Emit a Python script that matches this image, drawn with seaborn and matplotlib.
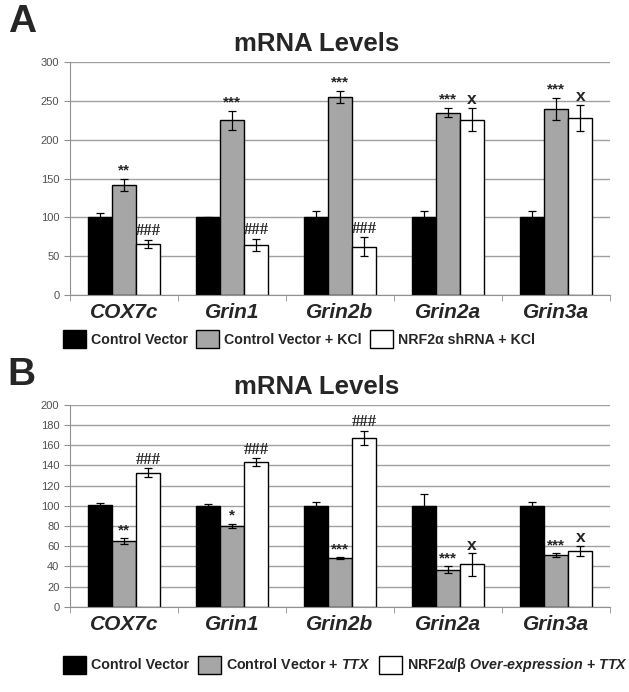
import numpy as np
import pandas as pd
import seaborn as sns
import matplotlib.pyplot as plt

sns.set_style("white")
plt.rcParams['font.family'] = ['Liberation Sans', 'DejaVu Sans']
plt.rcParams['mathtext.fontset'] = 'custom'
plt.rcParams['mathtext.rm'] = 'Liberation Sans:bold'
plt.rcParams['mathtext.it'] = 'Liberation Sans:bold:italic'
plt.rcParams['mathtext.bf'] = 'Liberation Sans:bold'

genes = ["COX7c", "Grin1", "Grin2b", "Grin2a", "Grin3a"]

### Panel A ###
a_groups = ["Control Vector", "Control Vector + KCl", "NRF2\u03b1 shRNA + KCl"]
a_ctrl = [100, 100, 100, 100, 100]
a_ctrl_err = [5, 1, 8, 8, 8]
a_kcl = [142, 225, 255, 235, 240]
a_kcl_err = [8, 12, 8, 6, 14]
a_sh = [66, 64, 62, 226, 228]
a_sh_err = [5, 8, 12, 15, 17]
a_ctrl_sig = ["", "", "", "", ""]
a_kcl_sig = ["**", "***", "***", "***", "***"]
a_sh_sig = ["###", "###", "###", "x", "x"]

### Panel B ###
b_groups = ["Control Vector", "Control Vector + $\\it{TTX}$",
            "NRF2\u03b1/\u03b2 $\\it{Over}$-$\\it{expression}$ + $\\it{TTX}$"]
b_ctrl = [101, 100, 100, 100, 100]
b_ctrl_err = [2, 2, 4, 12, 4]
b_ttx = [65, 80, 48, 37, 51]
b_ttx_err = [3, 2, 1, 3, 2]
b_ov = [133, 143, 167, 42, 55]
b_ov_err = [4, 4, 7, 11, 5]
b_ctrl_sig = ["", "", "", "", ""]
b_ttx_sig = ["**", "*", "***", "***", "***"]
b_ov_sig = ["###", "###", "###", "x", "x"]

colors = ["black", "#a6a6a6", "white"]


def draw_panel(ax, groups, vals, errs, sigs, ymax, step, pad):
    df = pd.DataFrame({
        "gene": genes * 3,
        "group": [g for g in groups for _ in genes],
        "value": vals[0] + vals[1] + vals[2],
    })
    sns.barplot(data=df, x="gene", y="value", hue="group", hue_order=groups,
                order=genes, palette=colors, edgecolor="black", linewidth=1,
                width=0.67, errorbar=None, ax=ax, zorder=3)
    for cont, ee, ss in zip(ax.containers, errs, sigs):
        for bar, e, s in zip(cont, ee, ss):
            x = bar.get_x() + bar.get_width() / 2
            h = bar.get_height()
            ax.errorbar(x, h, yerr=e, color="black", capsize=3, lw=0.9,
                        capthick=0.9, zorder=4)
            if s == "x":
                ax.text(x, h + e + pad * 0.2, s, ha="center", va="bottom",
                        fontsize=12.5, fontweight="bold")
            elif s.startswith("#"):
                ax.text(x, h + e + pad * 0.2, s, ha="center", va="bottom",
                        fontsize=12, family="Liberation Serif",
                        fontweight="bold")
            elif s:
                ax.text(x, h + e + pad * 0.3, s, ha="center", va="bottom",
                        fontsize=11, fontweight="bold")
    ax.set_ylim(0, ymax)
    ax.set_xlim(-0.5, 4.5)
    ax.set_yticks(np.arange(0, ymax + 1, step))
    ax.yaxis.grid(True, color="#a0a0a0", lw=1, zorder=0)
    ax.set_axisbelow(True)
    for sp in ["top", "right"]:
        ax.spines[sp].set_visible(False)
    for sp in ["left", "bottom"]:
        ax.spines[sp].set_color("#909090")
        ax.spines[sp].set_zorder(5)
    ax.tick_params(axis="y", colors="#909090", labelcolor="#505050",
                   labelsize=8, length=4, direction="out", left=True)
    ax.set_xticks(np.arange(-0.5, 5, 1), minor=True)
    ax.tick_params(axis="x", which="minor", colors="#909090", length=4,
                   direction="out", bottom=True)
    ax.tick_params(axis="x", which="major", length=0, pad=6)
    ax.set_xticklabels(genes, fontsize=15, fontweight="bold", style="italic")
    ax.set_xlabel("")
    ax.set_ylabel("")
    ax.set_title("mRNA Levels", fontsize=18.5, fontweight="bold", pad=8,
                 x=0.456)
    handles, labels = ax.get_legend_handles_labels()
    ax.get_legend().remove()
    return handles, labels


fig = plt.figure(figsize=(6.29, 6.92), dpi=100)
axA = fig.add_axes([0.111, 0.574, 0.859, 0.336])
axB = fig.add_axes([0.111, 0.123, 0.859, 0.292])

hA, lA = draw_panel(axA, a_groups, [a_ctrl, a_kcl, a_sh],
                    [a_ctrl_err, a_kcl_err, a_sh_err],
                    [a_ctrl_sig, a_kcl_sig, a_sh_sig], 300, 50, 6)
hB, lB = draw_panel(axB, b_groups, [b_ctrl, b_ttx, b_ov],
                    [b_ctrl_err, b_ttx_err, b_ov_err],
                    [b_ctrl_sig, b_ttx_sig, b_ov_sig], 200, 20, 4)

fig.legend(hA, lA, loc="center left", bbox_to_anchor=(0.08, 1 - 339 / 692),
           ncol=3, frameon=False, prop={"weight": "bold", "size": 10.2},
           handlelength=1.6, handleheight=1.6, columnspacing=0.6,
           handletextpad=0.35)
fig.legend(hB, lB, loc="center left", bbox_to_anchor=(0.08, 1 - 665 / 692),
           ncol=3, frameon=False, prop={"weight": "bold", "size": 10.3},
           handlelength=1.6, handleheight=1.6, columnspacing=0.6,
           handletextpad=0.35)

fig.text(0.012, 0.968, "A", fontsize=28, fontweight="bold", va="center")
fig.text(0.012, 0.458, "B", fontsize=28, fontweight="bold", va="center")

fig.savefig("out.png", dpi=100)
